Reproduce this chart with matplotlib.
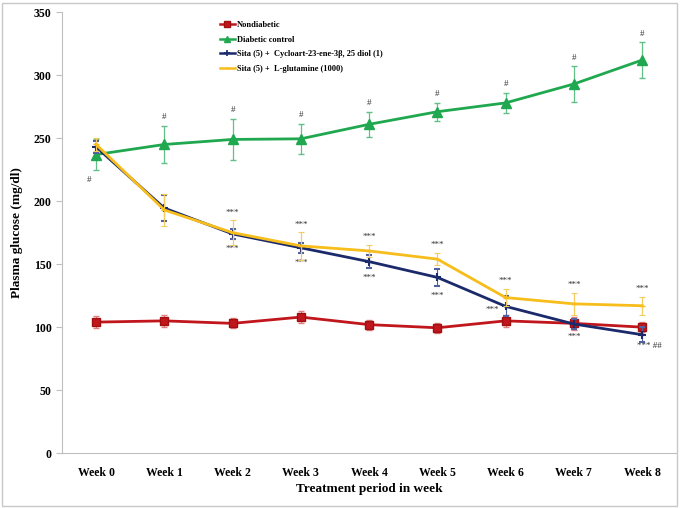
import numpy as np
import matplotlib.pyplot as plt
from matplotlib.patches import Rectangle
from matplotlib.lines import Line2D

plt.rcParams['font.family'] = ['Liberation Serif', 'DejaVu Serif']

weeks = ["Week 0", "Week 1", "Week 2", "Week 3", "Week 4",
         "Week 5", "Week 6", "Week 7", "Week 8"]

nondiab = [104, 105, 103, 108, 102, 99.5, 105, 103, 100]
nondiab_err = [5, 5, 4, 5, 4, 4, 5, 5, 4]

diab = [237, 245, 249, 249.5, 261, 271, 278, 293, 312]
diab_err = [12, 15, 16, 12, 10, 7, 8, 14, 14]

sita_cyc = [243, 194.5, 174, 163, 152, 139.5, 116.5, 102.5, 94]
sita_cyc_err = [5, 10, 4, 4, 5, 7, 8, 4, 6]

sita_glu = [245, 193, 175, 164.5, 160.5, 154, 123.5, 118.5, 117]
sita_glu_err = [5, 13, 10, 11, 5, 5, 7, 9, 7]

labels = ["Nondiabetic", "Diabetic control",
          "Sita (5) +  Cycloart-23-ene-3\u03b2, 25 diol (1)",
          "Sita (5) +  L-glutamine (1000)"]

fig = plt.figure(figsize=(6.81, 5.08), dpi=100)
ax = fig.add_axes([0.091, 0.108, 0.902, 0.868])
x = np.arange(len(weeks))

red, green, blue, yellow = "#c0161c", "#1fa84f", "#1b2a6b", "#f7bd1a"

ax.errorbar(x, nondiab, yerr=nondiab_err, color=red, lw=2, marker="s", ms=6,
            mfc=red, mec="#a01010", ecolor="#e08080", elinewidth=0.8, capsize=2,
            zorder=3)
ax.errorbar(x, diab, yerr=diab_err, color=green, lw=2, marker="^", ms=7,
            ecolor="#60c088", elinewidth=0.9, capsize=2, zorder=3)
ax.errorbar(x, sita_cyc, yerr=sita_cyc_err, color=blue, lw=2, marker="+", ms=6,
            mew=1.5, ecolor="#5060a0", elinewidth=0.8, capsize=2, capthick=0.8,
            zorder=4)
ax.errorbar(x, sita_glu, yerr=sita_glu_err, color=yellow, lw=2, marker="_", ms=5,
            ecolor="#f5cc60", elinewidth=0.9, capsize=2, capthick=0.8, zorder=5)

ann = dict(fontsize=6.5, color="#333333", ha="center", va="center")
# significance marks, diabetic control
ax.text(x[0] - 0.1, diab[0] - diab_err[0] - 8, "#", **ann)
for i in range(1, 9):
    ax.text(x[i], diab[i] + diab_err[i] + 7, "#", **ann)
# treated groups
for i in range(2, 9):
    ax.text(x[i], sita_glu[i] + sita_glu_err[i] + 6, "***", **ann)
for i in range(2, 6):
    ax.text(x[i], sita_cyc[i] - sita_cyc_err[i] - 8, "***", **ann)
ax.text(x[6] - 0.2, sita_cyc[6] - 3, "***", **ann)
ax.text(x[7], sita_cyc[7] - 10, "***", **ann)
ax.text(x[8] + 0.1, sita_cyc[8] - 9, "*** ##", **ann)

ax.set_xlim(-0.5, 8.5)
ax.set_ylim(0, 350)
ax.set_yticks(range(0, 351, 50))
ax.set_xticks(x)
ax.set_xticklabels(weeks, fontweight="bold", fontsize=8.5)
ax.tick_params(axis="y", labelsize=8.5, length=4, color="#bfbfbf")
for t in ax.get_yticklabels():
    t.set_fontweight("bold")
ax.tick_params(axis="x", length=0, pad=10)
ax.set_ylabel("Plasma glucose (mg/dl)", fontweight="bold", fontsize=9.5, labelpad=8)
ax.set_xlabel("Treatment period in week", fontweight="bold", fontsize=9.5, labelpad=3)

for s in ["top", "right"]:
    ax.spines[s].set_visible(False)
for s in ["left", "bottom"]:
    ax.spines[s].set_color("#bfbfbf")

handles = [
    Line2D([], [], color=red, lw=1.8, marker="s", ms=4, mec="#a01010"),
    Line2D([], [], color=green, lw=1.8, marker="^", ms=4.5),
    Line2D([], [], color=blue, lw=1.8, marker="+", ms=5, mew=1.2),
    Line2D([], [], color=yellow, lw=1.8, marker="_", ms=3),
]
ax.legend(handles, labels, loc="upper left", bbox_to_anchor=(0.245, 0.997),
          frameon=False, prop={"weight": "bold", "size": 6}, handlelength=1.8,
          labelspacing=0.78, handletextpad=0.2)

fig.patches.append(Rectangle((0.003, 0.004), 0.991, 0.99, transform=fig.transFigure,
                             fill=False, edgecolor="#c8c8c8", lw=1))

fig.savefig("out.png", dpi=100)
